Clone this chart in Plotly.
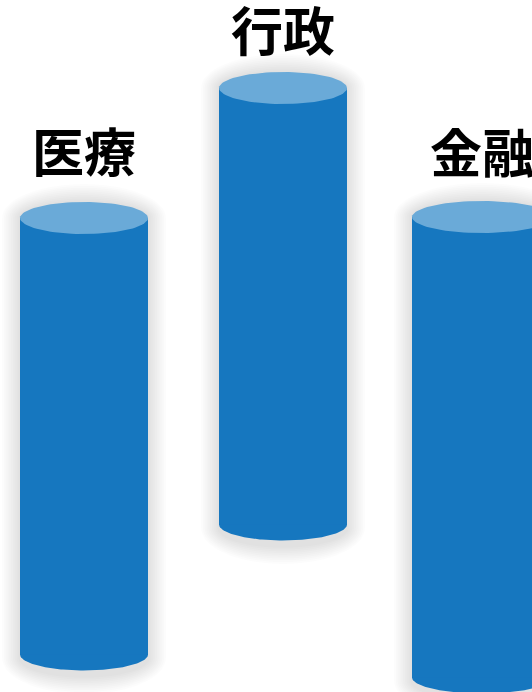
import numpy as np
import plotly.graph_objects as go

# ---- data ----
categories = ["医療", "行政", "金融"]
top_values = [474, 604, 475]      # value at top face of each cylinder
bottom_values = [37, 167, 14]     # value at base of each cylinder

# ---- style ----
W, H = 532, 692
body_color = "#1677BF"
cap_color = "#6AAAD8"
x_pos = [0, 1, 2]
px_per_unit = 199.0
x_left_px = 84.0
widths_px = [128, 128, 140]
ry_px = 16.0
label_offsets_px = [69, 60, 67]

x_range = [-x_left_px / px_per_unit, (W - x_left_px) / px_per_unit]


def ellipse(cx, cy, rx, ry, t0=0, t1=2 * np.pi, n=90):
    t = np.linspace(t0, t1, n)
    return cx + rx * np.cos(t), cy + ry * np.sin(t)


fig = go.Figure()

shapes = []
# soft shadows (drawn below traces)
for i, cat in enumerate(categories):
    cx = x_pos[i]
    top, bot = top_values[i], bottom_values[i]
    for k in range(10, 0, -1):
        d = k * 1.8
        rx = (widths_px[i] / 2 + d) / px_per_unit
        ry = ry_px + d
        tx, ty = ellipse(cx, top, rx, ry, 0, np.pi, 40)
        bx, by = ellipse(cx, bot - 3, rx, ry + 2, np.pi, 2 * np.pi, 40)
        xs = np.concatenate([tx, bx])
        ys = np.concatenate([ty, by])
        path = "M " + " L ".join(f"{a:.5f},{b:.3f}" for a, b in zip(xs, ys)) + " Z"
        shapes.append(dict(type="path", path=path, xref="x", yref="y",
                           fillcolor="rgba(0,0,0,0.013)", line=dict(width=0),
                           layer="below"))

# cylinder bodies
fig.add_trace(go.Bar(
    x=x_pos,
    y=[t - b for t, b in zip(top_values, bottom_values)],
    base=bottom_values,
    width=[w / px_per_unit for w in widths_px],
    marker=dict(color=body_color, line=dict(width=0)),
    hoverinfo="skip", showlegend=False,
))

# bottom half-ellipses and top caps
for i, cat in enumerate(categories):
    cx = x_pos[i]
    rx = widths_px[i] / 2 / px_per_unit
    bx, by = ellipse(cx, bottom_values[i], rx, ry_px, np.pi, 2 * np.pi)
    fig.add_trace(go.Scatter(x=np.append(bx, bx[0]), y=np.append(by, by[0]) + 0.5,
                             mode="lines", fill="toself", fillcolor=body_color,
                             line=dict(width=0), hoverinfo="skip",
                             showlegend=False))
    tx, ty = ellipse(cx, top_values[i], rx, ry_px)
    fig.add_trace(go.Scatter(x=tx, y=ty, mode="lines", fill="toself",
                             fillcolor=cap_color, line=dict(width=0),
                             hoverinfo="skip", showlegend=False))
    fig.add_annotation(x=cx, y=top_values[i], text=cat, showarrow=False,
                       yanchor="middle", yshift=label_offsets_px[i],
                       font=dict(family="Noto Sans CJK JP", size=52,
                                 color="#000000", weight="bold"))

fig.update_layout(
    width=W, height=H,
    margin=dict(l=0, r=0, t=0, b=0),
    paper_bgcolor="white", plot_bgcolor="white",
    barmode="overlay",
    shapes=shapes,
    xaxis=dict(range=x_range, visible=False, fixedrange=True),
    yaxis=dict(range=[0, H], visible=False, fixedrange=True),
)

fig.write_html("out.html")
